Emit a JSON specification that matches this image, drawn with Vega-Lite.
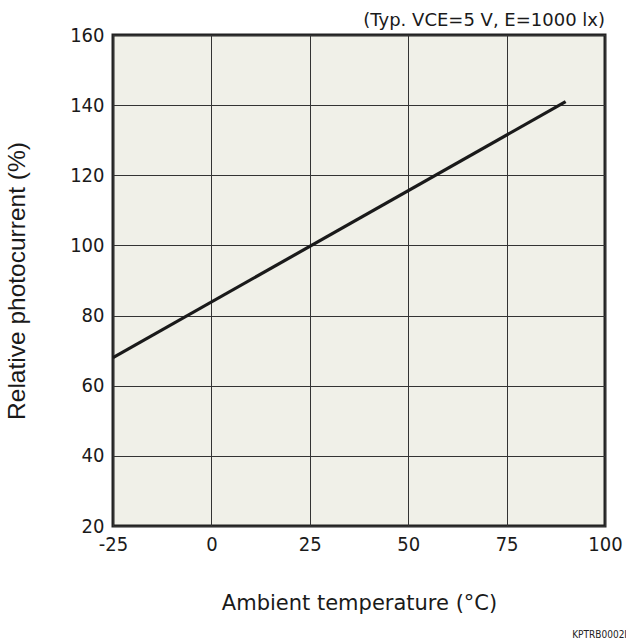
{
  "$schema": "https://vega.github.io/schema/vega-lite/v6.json",
  "autosize": "none",
  "padding": {"left": 113, "top": 35, "right": 21, "bottom": 118},
  "width": 492,
  "height": 491,
  "background": "white",
  "config": {
    "view": {"fill": "#f0f0e8", "stroke": "#222222", "strokeWidth": 3}
  },
  "title": {
    "text": "(Typ. VCE=5 V, E=1000 lx)",
    "anchor": "end",
    "frame": "group",
    "font": "DejaVu Sans",
    "fontSize": 18,
    "fontWeight": "normal",
    "color": "#1a1a1a",
    "offset": -5
  },
  "layer": [
    {
      "data": {"values": [
        {"temperature": -25, "photocurrent": 68},
        {"temperature": 90, "photocurrent": 141}
      ]},
      "mark": {"type": "line", "color": "#1a1a1a", "strokeWidth": 3.2},
      "encoding": {
        "x": {
          "field": "temperature", "type": "quantitative",
          "scale": {"domain": [-25, 100], "nice": false, "zero": false},
          "axis": {
            "title": "Ambient temperature (°C)",
            "values": [-25, 0, 25, 50, 75, 100],
            "labelExpr": "replace(datum.label, '\u2212', '-')",
            "domain": false, "ticks": false,
            "grid": true, "gridColor": "#333333", "gridWidth": 1, "gridOpacity": 1,
            "labelFont": "DejaVu Sans Condensed", "labelFontSize": 20, "labelColor": "#1a1a1a",
            "labelPadding": 8, "labelFlush": false,
            "titleFont": "DejaVu Sans", "titleFontSize": 21, "titleFontWeight": "normal",
            "titleColor": "#1a1a1a", "titlePadding": 38
          }
        },
        "y": {
          "field": "photocurrent", "type": "quantitative",
          "scale": {"domain": [20, 160], "nice": false, "zero": false},
          "axis": {
            "title": "Relative photocurrent (%)",
            "values": [20, 30, 40, 50, 60, 70, 80, 90, 100, 110, 120, 130, 140, 150, 160],
            "labelExpr": "datum.value % 20 == 0 ? datum.label : ''",
            "domain": false, "ticks": false,
            "grid": true, "gridColor": "#333333", "gridWidth": 1, "gridOpacity": 1,
            "labelFont": "DejaVu Sans Condensed", "labelFontSize": 20, "labelColor": "#1a1a1a",
            "labelPadding": 9, "labelFlush": false,
            "titleFont": "Liberation Sans", "titleFontSize": 24.5, "titleFontWeight": "normal",
            "titleColor": "#1a1a1a", "titlePadding": 40
          }
        }
      }
    },
    {
      "data": {"values": [{"code": "KPTRB0002I", "temperature": 100, "photocurrent": 20}]},
      "mark": {"type": "text", "align": "right", "baseline": "middle", "font": "DejaVu Sans Condensed", "fontSize": 10, "color": "#222222", "dx": 22, "dy": 109},
      "encoding": {
        "x": {"field": "temperature", "type": "quantitative"},
        "y": {"field": "photocurrent", "type": "quantitative"},
        "text": {"field": "code"}
      }
    }
  ]
}
